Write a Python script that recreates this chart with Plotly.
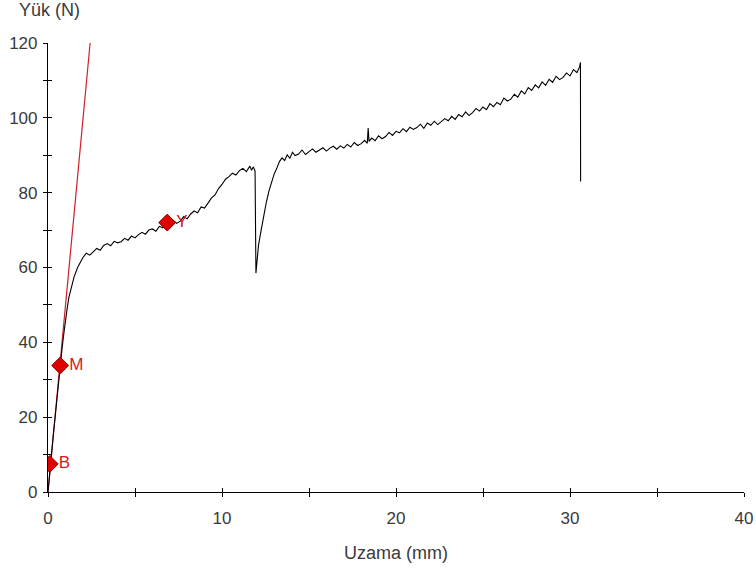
import plotly.graph_objects as go

# ---- data ----
curve_x = [0, 0.05, 0.1, 0.2, 0.3, 0.4, 0.5, 0.6, 0.7, 0.8, 0.9, 1.0, 1.1, 1.2, 1.35, 1.5, 1.7, 1.85,
           2.0, 2.2, 2.4, 2.6, 2.8, 3.0, 3.2, 3.4, 3.6, 3.8, 4.0, 4.2, 4.4, 4.6, 4.8, 5.0, 5.2, 5.4,
           5.6, 5.8, 6.0, 6.2, 6.4, 6.6, 6.8, 7.0, 7.2, 7.4, 7.6, 7.8, 8.0, 8.2, 8.4, 8.6, 8.8, 9.0,
           9.2, 9.4, 9.6, 9.8, 10.0, 10.2, 10.4, 10.6, 10.8, 11.0, 11.2, 11.4, 11.6, 11.7, 11.8, 11.9,
           11.95, 12.0, 12.1, 12.25, 12.4, 12.55, 12.7, 12.85, 13.0, 13.15, 13.3, 13.45, 13.6, 13.75,
           13.9, 14.05, 14.2, 14.4, 14.6, 14.8, 15.0, 15.2, 15.4, 15.6, 15.8, 16.0, 16.2, 16.4, 16.6,
           16.8, 17.0, 17.2, 17.4, 17.6, 17.8, 18.0, 18.2, 18.35, 18.4, 18.45, 18.6, 18.8, 19.0, 19.2,
           19.4, 19.6, 19.8, 20.0, 20.2, 20.4, 20.6, 20.8, 21.0, 21.2, 21.4, 21.6, 21.8, 22.0, 22.2,
           22.4, 22.6, 22.8, 23.0, 23.2, 23.4, 23.6, 23.8, 24.0, 24.2, 24.4, 24.6, 24.8, 25.0, 25.2,
           25.4, 25.6, 25.8, 26.0, 26.2, 26.4, 26.6, 26.8, 27.0, 27.2, 27.4, 27.6, 27.8, 28.0, 28.2,
           28.4, 28.6, 28.8, 29.0, 29.2, 29.4, 29.6, 29.8, 30.0, 30.2, 30.4, 30.55, 30.6, 30.61]
curve_y = [0, 3, 6, 10, 15, 20, 25, 29, 34, 38, 42, 46, 49, 52, 55, 57.5, 60, 61.5,
           62.6, 63.8, 63.3, 64.2, 65.1, 64.6, 65.9, 66.4, 65.8, 67.0, 66.6, 66.9, 67.8, 67.3, 68.4, 67.9, 68.8, 69.4,
           68.9, 70.0, 70.3, 69.7, 71.0, 70.6, 71.7, 71.2, 72.6, 71.8, 72.4, 73.6, 73.0, 74.3, 75.1, 74.6, 76.2, 75.9,
           77.4, 78.6, 79.4, 81.1, 82.2, 83.6, 84.3, 85.2, 84.7, 85.9, 86.5, 85.6, 87.1, 86.0, 86.9, 85.8,
           58.5, 62.0, 66.0, 70.0, 74.0, 77.5, 80.5, 83.0, 85.0, 86.5, 88.3, 89.3, 88.6, 90.1,
           89.2, 90.8, 89.9, 90.3, 91.4, 90.2, 91.0, 91.7, 90.8, 91.3, 92.0, 91.1, 91.9, 92.4, 91.6,
           92.5, 91.9, 92.9, 92.2, 93.4, 92.6, 93.1, 94.0, 93.2, 97.3, 93.7, 94.6, 93.9, 95.2, 94.4,
           95.0, 96.1, 95.3, 96.4, 96.0, 97.1, 96.3, 97.5, 96.9, 97.4, 98.3, 97.2, 98.6, 98.0, 99.1,
           98.2, 99.0, 99.8, 99.2, 100.4, 99.6, 100.9, 100.3, 101.6, 100.6, 101.4, 102.5, 101.8, 102.9, 102.2,
           103.8, 103.0, 104.1, 103.5, 105.3, 104.5, 105.0, 106.3, 105.5, 107.2, 106.4, 108.1, 107.3, 108.8, 108.0,
           109.6, 108.7, 110.3, 109.5, 111.1, 110.2, 110.8, 112.0, 111.2, 112.9, 112.1, 113.6, 114.8, 83.0]

fit_x = [0, 2.42]
fit_y = [0, 120]

point_labels = ["B", "M", "Y"]
point_x = [0.1, 0.7, 6.85]
point_y = [7.5, 33.8, 72.0]

x_ticks = [0, 5, 10, 15, 20, 25, 30, 35, 40]
x_tick_text = ["0", "", "10", "", "20", "", "30", "", "40"]
y_ticks = [0, 10, 20, 30, 40, 50, 60, 70, 80, 90, 100, 110, 120]
y_tick_text = ["0", "", "20", "", "40", "", "60", "", "80", "", "100", "", "120"]

FONT = "Liberation Sans, Arial, sans-serif"
TXT = "#3a3a3a"

fig = go.Figure()
fig.add_trace(go.Scatter(x=fit_x, y=fit_y, mode="lines",
                         line=dict(color="#d0202a", width=1.2), hoverinfo="skip"))
fig.add_trace(go.Scatter(x=curve_x, y=curve_y, mode="lines",
                         line=dict(color="#000000", width=1.1), hoverinfo="skip"))
fig.add_trace(go.Scatter(x=point_x, y=point_y, mode="markers+text",
                         text=point_labels, textposition="middle right",
                         textfont=dict(color="#d42020", size=17, family=FONT),
                         marker=dict(symbol="diamond", size=13, color="#e00000",
                                     line=dict(color="#8a0000", width=1))))
# overlay axes to give crossing ticks
fig.add_trace(go.Scatter(x=[], y=[], xaxis="x2", yaxis="y2", showlegend=False))

fig.update_layout(
    width=756, height=573,
    margin=dict(l=48, r=12, t=43, b=81),
    paper_bgcolor="white", plot_bgcolor="white",
    showlegend=False,
    font=dict(family=FONT, size=17, color=TXT),
    xaxis=dict(range=[0, 40], tickvals=x_ticks, ticktext=x_tick_text, automargin=False,
               showgrid=False, zeroline=False, showline=True, linecolor="black", linewidth=1.2,
               ticks="outside", ticklen=4, tickcolor="black", tickwidth=1,
               ticklabelstandoff=6, tickfont=dict(size=17, color=TXT),
               title=dict(text="Uzama (mm)", standoff=19, font=dict(size=18, color=TXT))),
    yaxis=dict(range=[0, 120], tickvals=y_ticks, ticktext=y_tick_text, automargin=False,
               showgrid=False, zeroline=False, showline=True, linecolor="black", linewidth=1.2,
               ticks="outside", ticklen=4, tickcolor="black", tickwidth=1,
               ticklabelstandoff=2, tickfont=dict(size=17, color=TXT)),
    xaxis2=dict(range=[0, 40], overlaying="x", tickvals=x_ticks, showticklabels=False,
                showgrid=False, zeroline=False, showline=False, automargin=False,
                ticks="inside", ticklen=4, tickcolor="black", tickwidth=1, side="bottom"),
    yaxis2=dict(range=[0, 120], overlaying="y", tickvals=y_ticks, showticklabels=False,
                showgrid=False, zeroline=False, showline=False, automargin=False,
                ticks="inside", ticklen=4, tickcolor="black", tickwidth=1, side="left"),
    annotations=[dict(text="Yük (N)", xref="paper", yref="paper", x=0, y=1,
                      xanchor="left", yanchor="bottom", xshift=-31, yshift=21,
                      showarrow=False, font=dict(size=18, color=TXT, family=FONT))],
)

fig.write_html("out.html", config={"displayModeBar": False},
               post_script="document.body.style.margin='0px';document.body.style.overflow='hidden';")
